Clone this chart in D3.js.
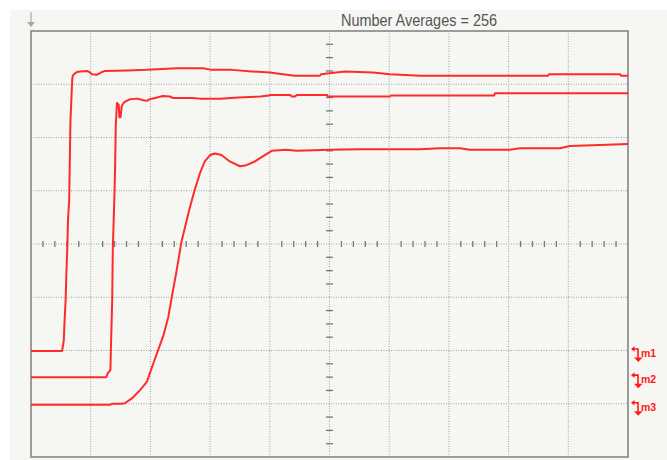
<!DOCTYPE html>
<html>
<head>
<meta charset="utf-8">
<script src="https://cdn.jsdelivr.net/npm/d3@7"></script>
<style>
  html, body { margin: 0; padding: 0; background: #ffffff; }
  svg { display: block; }
</style>
</head>
<body>
<svg id="scope" width="667" height="460"></svg>
<script>
// Scope capture: three step responses, 10 horizontal x 8 vertical divisions.
// Values are in screen divisions (x: 0..10, y: -4..4 about the centre line).
const title = "Number Averages = 256";

const trace1 = [[0,-2.01],[0.52,-2.01],[0.54,-1.88],[0.55,-1.80],[0.56,-1.50],[0.58,-1.05],[0.59,-0.64],[0.61,0],[0.62,0.45],[0.64,0.83],[0.66,2.29],[0.69,3.08],[0.70,3.16],[0.73,3.20],[0.77,3.23],[0.82,3.24],[0.95,3.25],[1.02,3.19],[1.11,3.18],[1.17,3.22],[1.24,3.25],[1.62,3.26],[1.94,3.27],[2.45,3.30],[2.88,3.30],[3.03,3.27],[3.37,3.27],[3.70,3.24],[4.00,3.22],[4.22,3.19],[4.42,3.16],[4.84,3.16],[4.86,3.19],[5.03,3.21],[5.26,3.24],[5.73,3.22],[6.01,3.19],[6.52,3.16],[8.66,3.16],[8.68,3.19],[9.87,3.19],[9.88,3.16],[10,3.16]];

const trace2 = [[0,-2.50],[1.26,-2.50],[1.29,-2.42],[1.33,-2.37],[1.34,-1.90],[1.36,-1.05],[1.37,-0.11],[1.38,0.26],[1.40,1.01],[1.41,1.52],[1.42,2.23],[1.44,2.65],[1.47,2.61],[1.48,2.38],[1.50,2.38],[1.52,2.59],[1.55,2.65],[1.57,2.67],[1.66,2.72],[1.78,2.73],[1.88,2.70],[1.94,2.69],[1.99,2.72],[2.11,2.75],[2.21,2.78],[2.33,2.77],[2.38,2.74],[2.71,2.74],[2.83,2.73],[3.00,2.73],[3.17,2.73],[3.47,2.75],[3.84,2.77],[3.99,2.79],[4.00,2.80],[4.04,2.80],[4.34,2.80],[4.37,2.77],[4.42,2.77],[4.46,2.80],[4.96,2.80],[4.97,2.77],[6.01,2.77],[6.03,2.79],[7.76,2.79],[7.77,2.83],[10,2.83]];

const trace3 = [[0,-3.02],[1.32,-3.02],[1.36,-3.00],[1.52,-3.00],[1.57,-2.99],[1.69,-2.90],[1.83,-2.74],[1.94,-2.59],[1.99,-2.43],[2.05,-2.24],[2.13,-1.99],[2.22,-1.71],[2.30,-1.37],[2.37,-0.92],[2.43,-0.56],[2.52,0.04],[2.65,0.64],[2.74,1.01],[2.83,1.33],[2.91,1.55],[3.00,1.67],[3.08,1.70],[3.19,1.67],[3.33,1.55],[3.50,1.46],[3.61,1.48],[3.75,1.55],[3.89,1.65],[4.03,1.75],[4.28,1.77],[4.45,1.75],[5.01,1.77],[5.51,1.78],[6.52,1.78],[6.85,1.80],[7.19,1.80],[7.35,1.77],[8.02,1.77],[8.19,1.80],[8.86,1.80],[9.03,1.84],[9.53,1.86],[10,1.88]];

const traces = [trace1, trace2, trace3];

// Reference markers (ground levels of each channel)
const markerNames = ["m1", "m2", "m3"];
const markerLevels = [-2.01, -2.50, -3.02];

const xDivisions = d3.range(0, 11);
const yDivisions = d3.range(-4, 5);

const svg = d3.select("#scope");
const W = 667, H = 460;
const plot = { left: 31, top: 31, right: 628, bottom: 457 };

const x = d3.scaleLinear().domain([0, 10]).range([plot.left, plot.right]);
const y = d3.scaleLinear().domain([-4, 4]).range([plot.bottom, plot.top]);

// Screen background
svg.append("rect").attr("x", 10).attr("y", 10).attr("width", W - 10).attr("height", H - 10)
  .attr("fill", "#f6f6f3");

// Graticule: dotted division lines
const gridColor = "#9aa2ad";
svg.append("g").selectAll("line").data(xDivisions.slice(1, -1)).join("line")
  .attr("x1", d => x(d)).attr("x2", d => x(d))
  .attr("y1", plot.top).attr("y2", plot.bottom)
  .attr("stroke", gridColor).attr("stroke-width", 1).attr("stroke-dasharray", "1,1.5");
svg.append("g").selectAll("line").data(yDivisions.slice(1, -1)).join("line")
  .attr("y1", d => y(d)).attr("y2", d => y(d))
  .attr("x1", plot.left).attr("x2", plot.right)
  .attr("stroke", gridColor).attr("stroke-width", 1).attr("stroke-dasharray", "1,1.5");

// Minor ticks along the centre axes
const tickColor = "#707a86";
const hTicks = d3.range(1, 50).filter(i => i % 5 !== 0).map(i => i / 5);
svg.append("g").selectAll("line").data(hTicks).join("line")
  .attr("x1", d => x(d)).attr("x2", d => x(d))
  .attr("y1", y(0) - 3).attr("y2", y(0) + 3)
  .attr("stroke", tickColor).attr("stroke-width", 1.3);
const vTicks = d3.range(-15, 16).filter(i => i % 4 !== 0).map(i => i / 4);
svg.append("g").selectAll("line").data(vTicks).join("line")
  .attr("y1", d => y(d)).attr("y2", d => y(d))
  .attr("x1", x(5) - 3.5).attr("x2", x(5) + 3.5)
  .attr("stroke", tickColor).attr("stroke-width", 1.3);

// Frame
svg.append("rect")
  .attr("x", plot.left).attr("y", plot.top)
  .attr("width", plot.right - plot.left).attr("height", plot.bottom - plot.top)
  .attr("fill", "none").attr("stroke", "#9b9b9b").attr("stroke-width", 2);

// Trigger arrow above the frame
svg.append("line").attr("x1", plot.left).attr("x2", plot.left).attr("y1", 12).attr("y2", 24)
  .attr("stroke", "#a8a8a8").attr("stroke-width", 1.2);
svg.append("path").attr("d", `M${plot.left - 4},22 L${plot.left + 4},22 L${plot.left},27 Z`)
  .attr("fill", "#a8a8a8");

// Traces
const line = d3.line().x(d => x(d[0])).y(d => y(d[1]));
svg.append("g").selectAll("path").data(traces).join("path")
  .attr("d", line)
  .attr("fill", "none").attr("stroke", "#ff2b2b").attr("stroke-width", 2)
  .attr("stroke-linejoin", "round");

// Channel markers on the right edge
const mk = svg.append("g").selectAll("g").data(markerNames).join("g")
  .attr("transform", (d, i) => `translate(${plot.right + 3},${y(markerLevels[i]) - 2})`);
mk.append("path").attr("d", "M2,0 L7,0 L7,9").attr("fill", "none")
  .attr("stroke", "#ff1a1a").attr("stroke-width", 1.6);
mk.append("path").attr("d", "M0,0 L3.5,-2.8 L3.5,2.8 Z").attr("fill", "#ff1a1a");
mk.append("path").attr("d", "M3,8.5 L11.5,8.5 L7.25,13 Z").attr("fill", "#ff1a1a");
mk.append("text").attr("x", 10).attr("y", 8)
  .attr("font-family", "Liberation Sans, Arial, sans-serif").attr("font-size", 10.5)
  .attr("font-weight", "bold").attr("fill", "#ff1a1a").text(d => d);

// Title
svg.append("text").attr("x", 341).attr("y", 26)
  .attr("font-family", "Liberation Sans, Arial, sans-serif").attr("font-size", 16.5)
  .attr("fill", "#555555")
  .attr("textLength", 156).attr("lengthAdjust", "spacingAndGlyphs")
  .text(title);
</script>
</body>
</html>
